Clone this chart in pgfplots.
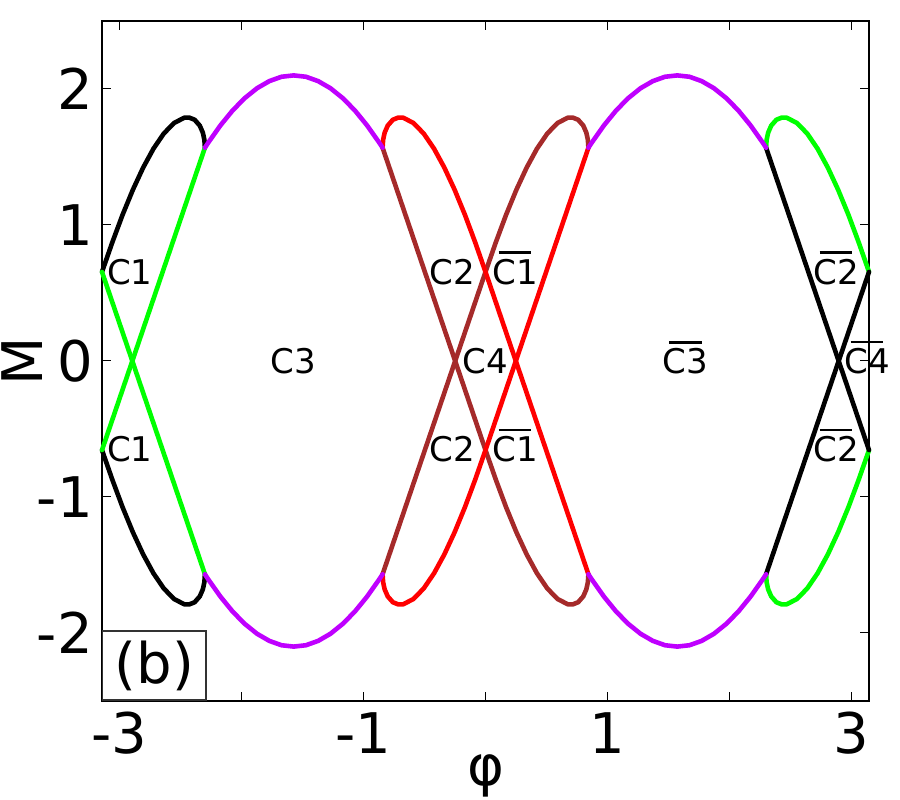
\documentclass[border=0pt]{standalone}
\usepackage{pgfplots}
\pgfplotsset{compat=1.18}
\usepackage{fontspec}
\setmainfont{DejaVu Sans}

\definecolor{cgreen}{RGB}{0,255,0}
\definecolor{cpurple}{RGB}{191,0,255}
\definecolor{cbrown}{RGB}{165,42,42}
\definecolor{cred}{RGB}{255,0,0}

% overlined label, bar a bit narrower than the text
\newcommand{\ob}[1]{\setbox0\hbox{#1}\vbox{\offinterlineskip\hbox to \wd0{\hfil\vrule height 2.5pt depth 0pt width 0.72\wd0\hfil}\kern 5pt\box0}}

\begin{document}
\begin{tikzpicture}
\begin{axis}[
  scale only axis, width=767pt, height=680pt,
  xmin=-3.14159, xmax=3.14159, ymin=-2.5, ymax=2.5,
  xtick={-3,-2,-1,0,1,2,3}, xticklabels={-3,,-1,,1,,3},
  ytick={-2,-1,0,1,2}, yticklabels={-2,-1,0,1,2},
  tick align=inside, major tick length=9pt,
  every tick/.style={black, line width=1pt},
  axis line style={line width=1.5pt},
  tick label style={font=\fontsize{56}{60}\selectfont, inner sep=0pt},
  xticklabel shift=11pt, yticklabel shift=9pt,
  clip=false,
  every axis plot/.append style={line width=4.6pt, mark=none, line join=round, line cap=round},
]
% middle: brown
\addplot[cbrown] coordinates {(-0.843,-1.568) (0,0.655) (0.0843,0.872) (0.1686,1.075) (0.2529,1.259) (0.3372,1.422) (0.4215,1.561) (0.5058,1.672) (0.5901,1.750) (0.6744,1.789) (0.7166,1.789) (0.7587,1.774) (0.8009,1.731) (0.8261,1.679) (0.8388,1.626) (0.843,1.568)};
\addplot[cbrown] coordinates {(-0.843,1.568) (0,-0.655) (0.0843,-0.872) (0.1686,-1.075) (0.2529,-1.259) (0.3372,-1.422) (0.4215,-1.561) (0.5058,-1.672) (0.5901,-1.750) (0.6744,-1.789) (0.7166,-1.789) (0.7587,-1.774) (0.8009,-1.731) (0.8261,-1.679) (0.8388,-1.626) (0.843,-1.568)};
% middle: red
\addplot[cred] coordinates {(0.843,-1.568) (0,0.655) (-0.0843,0.872) (-0.1686,1.075) (-0.2529,1.259) (-0.3372,1.422) (-0.4215,1.561) (-0.5058,1.672) (-0.5901,1.750) (-0.6744,1.789) (-0.7166,1.789) (-0.7587,1.774) (-0.8009,1.731) (-0.8261,1.679) (-0.8388,1.626) (-0.843,1.568)};
\addplot[cred] coordinates {(0.843,1.568) (0,-0.655) (-0.0843,-0.872) (-0.1686,-1.075) (-0.2529,-1.259) (-0.3372,-1.422) (-0.4215,-1.561) (-0.5058,-1.672) (-0.5901,-1.750) (-0.6744,-1.789) (-0.7166,-1.789) (-0.7587,-1.774) (-0.8009,-1.731) (-0.8261,-1.679) (-0.8388,-1.626) (-0.843,-1.568)};
% left: black lobes, green lines
\addplot[black] coordinates {(-3.1416,0.655) (-3.0573,0.872) (-2.9730,1.075) (-2.8887,1.259) (-2.8044,1.422) (-2.7201,1.561) (-2.6358,1.672) (-2.5515,1.750) (-2.4672,1.789) (-2.4250,1.789) (-2.3829,1.774) (-2.3407,1.731) (-2.3155,1.679) (-2.3028,1.626) (-2.2986,1.568)};
\addplot[black] coordinates {(-3.1416,-0.655) (-3.0573,-0.872) (-2.9730,-1.075) (-2.8887,-1.259) (-2.8044,-1.422) (-2.7201,-1.561) (-2.6358,-1.672) (-2.5515,-1.750) (-2.4672,-1.789) (-2.4250,-1.789) (-2.3829,-1.774) (-2.3407,-1.731) (-2.3155,-1.679) (-2.3028,-1.626) (-2.2986,-1.568)};
\addplot[cgreen] coordinates {(-3.1416,0.655) (-2.2986,-1.568)};
\addplot[cgreen] coordinates {(-3.1416,-0.655) (-2.2986,1.568)};
% right: green lobes, black lines
\addplot[cgreen] coordinates {(3.1416,0.655) (3.0573,0.872) (2.9730,1.075) (2.8887,1.259) (2.8044,1.422) (2.7201,1.561) (2.6358,1.672) (2.5515,1.750) (2.4672,1.789) (2.4250,1.789) (2.3829,1.774) (2.3407,1.731) (2.3155,1.679) (2.3028,1.626) (2.2986,1.568)};
\addplot[cgreen] coordinates {(3.1416,-0.655) (3.0573,-0.872) (2.9730,-1.075) (2.8887,-1.259) (2.8044,-1.422) (2.7201,-1.561) (2.6358,-1.672) (2.5515,-1.750) (2.4672,-1.789) (2.4250,-1.789) (2.3829,-1.774) (2.3407,-1.731) (2.3155,-1.679) (2.3028,-1.626) (2.2986,-1.568)};
\addplot[black] coordinates {(2.2986,1.568) (3.1416,-0.655)};
\addplot[black] coordinates {(2.2986,-1.568) (3.1416,0.655)};
% purple arcs
\addplot[cpurple] coordinates {(0.843,1.568) (0.8708,1.606) (0.9708,1.733) (1.0708,1.843) (1.1708,1.934) (1.2708,2.006) (1.3708,2.058) (1.4708,2.090) (1.5708,2.100) (1.6708,2.090) (1.7708,2.058) (1.8708,2.006) (1.9708,1.934) (2.0708,1.843) (2.1708,1.733) (2.2708,1.606) (2.2986,1.568)};
\addplot[cpurple] coordinates {(0.843,-1.568) (0.8708,-1.606) (0.9708,-1.733) (1.0708,-1.843) (1.1708,-1.934) (1.2708,-2.006) (1.3708,-2.058) (1.4708,-2.090) (1.5708,-2.100) (1.6708,-2.090) (1.7708,-2.058) (1.8708,-2.006) (1.9708,-1.934) (2.0708,-1.843) (2.1708,-1.733) (2.2708,-1.606) (2.2986,-1.568)};
\addplot[cpurple] coordinates {(-0.843,1.568) (-0.8708,1.606) (-0.9708,1.733) (-1.0708,1.843) (-1.1708,1.934) (-1.2708,2.006) (-1.3708,2.058) (-1.4708,2.090) (-1.5708,2.100) (-1.6708,2.090) (-1.7708,2.058) (-1.8708,2.006) (-1.9708,1.934) (-2.0708,1.843) (-2.1708,1.733) (-2.2708,1.606) (-2.2986,1.568)};
\addplot[cpurple] coordinates {(-0.843,-1.568) (-0.8708,-1.606) (-0.9708,-1.733) (-1.0708,-1.843) (-1.1708,-1.934) (-1.2708,-2.006) (-1.3708,-2.058) (-1.4708,-2.090) (-1.5708,-2.100) (-1.6708,-2.090) (-1.7708,-2.058) (-1.8708,-2.006) (-1.9708,-1.934) (-2.0708,-1.843) (-2.1708,-1.733) (-2.2708,-1.606) (-2.2986,-1.568)};

% region labels
\begin{scope}[every node/.style={font=\fontsize{34}{36}\selectfont, inner sep=0pt, anchor=base}]
\node at (axis cs:-2.914,0.566) {C1};
\node at (axis cs:-2.914,-0.739) {C1};
\node at (axis cs:-1.577,-0.092) {C3};
\node at (axis cs:-0.270,0.566) {C2};
\node at (axis cs:-0.270,-0.739) {C2};
\node at (axis cs:0.242,0.566) {\ob{C1}};
\node at (axis cs:0.242,-0.739) {\ob{C1}};
\node at (axis cs:0,-0.092) {C4};
\node at (axis cs:1.638,-0.095) {\ob{C3}};
\node at (axis cs:2.871,0.566) {\ob{C2}};
\node at (axis cs:2.871,-0.739) {\ob{C2}};
\node at (axis cs:3.125,-0.092) {\ob{C4}};
\end{scope}
\end{axis}
\node[draw=black!80, line width=1.5pt, fill=white, anchor=south west, minimum width=103pt, minimum height=69pt, inner sep=0pt, font=\fontsize{56}{60}\selectfont] at (0,0) {(b)};
\node[rotate=90, inner sep=0pt, font=\fontsize{56}{60}\selectfont] at (-80pt,340pt) {M};
\node[inner sep=0pt, font=\fontsize{56}{60}\selectfont] at (383.5pt,-75pt) {φ};
\pgfresetboundingbox
\path[use as bounding box] (-102pt,-99pt) rectangle (798pt,701pt);
\end{tikzpicture}
\end{document}
